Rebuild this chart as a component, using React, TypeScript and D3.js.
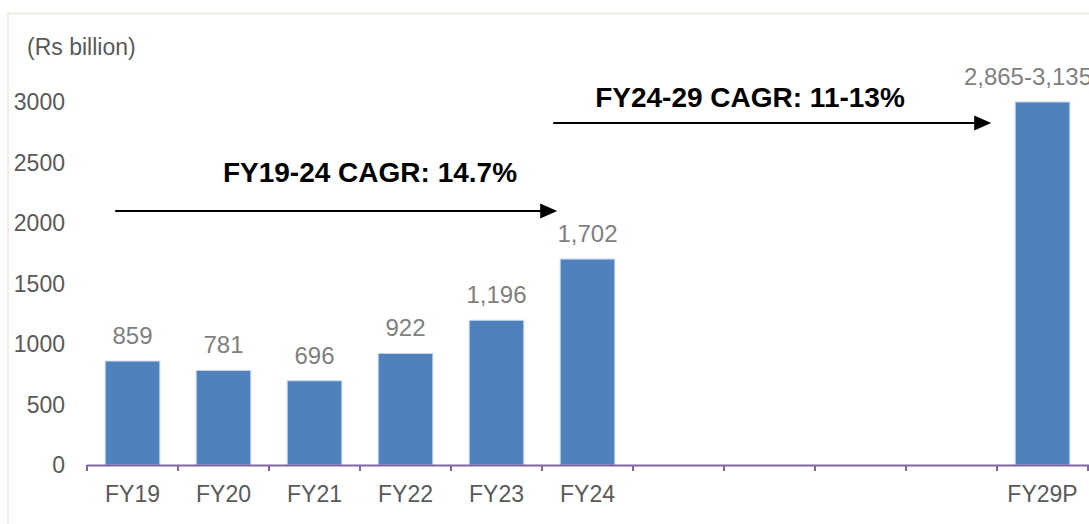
import React from "react";
import * as d3 from "d3";

const categories = ["FY19", "FY20", "FY21", "FY22", "FY23", "FY24", "", "", "", "", "FY29P"];
const values: (number | null)[] = [859, 781, 696, 922, 1196, 1702, null, null, null, null, 3000];
const valueLabels = ["859", "781", "696", "922", "1,196", "1,702", "", "", "", "", "2,865-3,135"];
const yTicks = [0, 500, 1000, 1500, 2000, 2500, 3000];
const unitLabel = "(Rs billion)";
const cagr1 = { text: "FY19-24 CAGR: 14.7%", from: 0, to: 5, level: 2100 };
const cagr2 = { text: "FY24-29 CAGR: 11-13%", from: 5, to: 10, level: 2830 };

const W = 1089;
const H = 524;
const FONT = "'Liberation Sans', Arial, sans-serif";

export default function App() {
  const x = d3
    .scaleBand<number>()
    .domain(categories.map((_, i) => i))
    .range([87, 1088])
    .paddingInner(0.4)
    .paddingOuter(0.2);
  const y = d3.scaleLinear().domain([0, 3000]).range([465, 102]);
  const step = x.step();
  const x0 = x.range()[0];
  const bw = x.bandwidth();

  const arrow = (x1: number, x2: number, yy: number, key: string) => (
    <g key={key}>
      <line x1={x1} x2={x2 - 16} y1={yy} y2={yy} stroke="#000" strokeWidth={2} />
      <path d={`M${x2},${yy} L${x2 - 17},${yy - 7.5} L${x2 - 17},${yy + 7.5} Z`} fill="#000" />
    </g>
  );

  const a1s = (x(cagr1.from) as number) + 10;
  const a1e = (x(cagr1.to) as number) - 3;
  const a2s = (x(cagr2.from) as number) - 7;
  const a2e = (x(cagr2.to) as number) - 24;

  return (
    <svg
      width={W}
      height={H}
      style={{ position: "absolute", left: 0, top: 0, background: "#fff" }}
      fontFamily={FONT}
    >
      <rect x={0} y={0} width={W} height={H} fill="#fff" />
      {/* frame */}
      <line x1={8} x2={W} y1={13.5} y2={13.5} stroke="#ECE8DF" strokeWidth={1.5} />
      <line x1={8} x2={8} y1={13} y2={H} stroke="#ECE8DF" strokeWidth={1.5} />

      <text x={27} y={55} fontSize={23} fill="#595959">
        {unitLabel}
      </text>

      {yTicks.map((t) => (
        <text key={t} x={65} y={y(t) + 8} fontSize={23} fill="#595959" textAnchor="end">
          {t}
        </text>
      ))}

      {values.map((v, i) =>
        v == null ? null : (
          <rect
            key={i}
            x={x(i)}
            y={y(v)}
            width={bw}
            height={y(0) - y(v)}
            fill="#4F81BD"
            stroke="#C6D6EC"
            strokeWidth={1}
          />
        )
      )}

      {values.map((v, i) => {
        if (v == null) return null;
        const cx = (x(i) as number) + bw / 2;
        const isLast = i === values.length - 1;
        return (
          <text
            key={"l" + i}
            x={isLast ? 1092 : cx}
            y={y(v) - 17}
            fontSize={24}
            fill="#7F7F7F"
            textAnchor={isLast ? "end" : "middle"}
          >
            {valueLabels[i]}
          </text>
        );
      })}

      {/* x axis */}
      <line x1={x0} x2={W} y1={465.5} y2={465.5} stroke="#8064A2" strokeWidth={2} />
      {d3.range(categories.length + 1).map((k) => (
        <line
          key={"t" + k}
          x1={x0 + k * step}
          x2={x0 + k * step}
          y1={465}
          y2={471}
          stroke="#8064A2"
          strokeWidth={2}
        />
      ))}
      {categories.map((c, i) => (
        <text
          key={"c" + i}
          x={(x(i) as number) + bw / 2}
          y={502}
          fontSize={23}
          fill="#595959"
          textAnchor="middle"
        >
          {c}
        </text>
      ))}

      {/* CAGR annotations */}
      {arrow(a1s, a1e, Math.round(y(cagr1.level)), "a1")}
      <text x={370} y={182} fontSize={28} fontWeight="bold" fill="#000" textAnchor="middle">
        {cagr1.text}
      </text>
      {arrow(a2s, a2e, Math.round(y(cagr2.level)), "a2")}
      <text x={750} y={107} fontSize={28} fontWeight="bold" fill="#000" textAnchor="middle">
        {cagr2.text}
      </text>
    </svg>
  );
}
